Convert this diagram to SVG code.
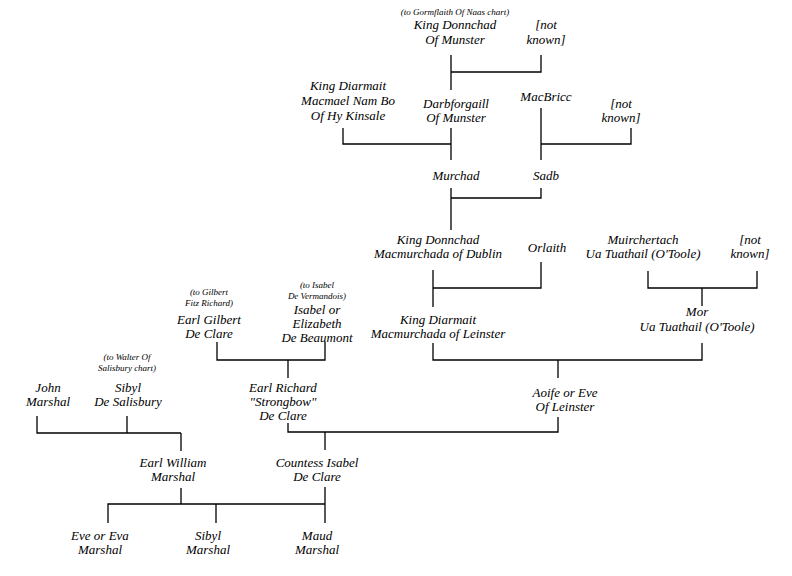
<svg xmlns="http://www.w3.org/2000/svg" width="792" height="576" viewBox="0 0 792 576" font-family="'Liberation Serif', 'Times New Roman', Times, 'DejaVu Serif', serif">
<style>
text{font-family:'Liberation Serif','Times New Roman',Times,'DejaVu Serif',serif;font-style:italic;font-size:13px;fill:#000;text-anchor:middle}
text.s{font-size:9px}
.c path{fill:none;stroke:#000;stroke-width:1.3}
</style>
<rect width="792" height="576" fill="#fff"/>
<g class="c" id="connectors">
<path d="M451,55V90M451,72H541V55"/>
<path d="M343,128V144H451M451,128V160"/>
<path d="M541,108V160M541,144H631V128"/>
<path d="M451,188V230M451,198H541V188"/>
<path d="M433,270V307M433,288H541V262"/>
<path d="M648,271V288H757V271M702,288V306"/>
<path d="M433,343V360H702V343M558,360V378"/>
<path d="M217,342V360H325V342M288,360V378"/>
<path d="M288,423V432H558V417M325,432V450"/>
<path d="M37,416V433H181M127,416V433M181,433V451"/>
<path d="M181,488V504M108,523V504H325M325,487V523M216,504V523"/>
</g>
<g id="n-donnchad-munster"><text class="s" x="455" y="15">(to Gormflaith Of Naas chart)</text><text x="455" y="29">King Donnchad</text><text x="455" y="44">Of Munster</text></g>
<g id="n-notknown1"><text x="546" y="29">[not</text><text x="546" y="44">known]</text></g>
<g id="n-diarmait-macmael"><text x="348" y="90">King Diarmait</text><text x="348" y="105">Macmael Nam Bo</text><text x="348" y="120">Of Hy Kinsale</text></g>
<g id="n-darbforgaill"><text x="456" y="108">Darbforgaill</text><text x="456" y="122">Of Munster</text></g>
<g id="n-macbricc"><text x="546" y="101">MacBricc</text></g>
<g id="n-notknown2"><text x="621" y="108">[not</text><text x="621" y="122">known]</text></g>
<g id="n-murchad"><text x="456" y="180">Murchad</text></g>
<g id="n-sadb"><text x="546" y="180">Sadb</text></g>
<g id="n-donnchad-dublin"><text x="438" y="244">King Donnchad</text><text x="438" y="258">Macmurchada of Dublin</text></g>
<g id="n-orlaith"><text x="547" y="252">Orlaith</text></g>
<g id="n-muirchertach"><text x="643" y="244">Muirchertach</text><text x="643" y="258">Ua Tuathail (O'Toole)</text></g>
<g id="n-notknown3"><text x="750" y="244">[not</text><text x="750" y="258">known]</text></g>
<g id="n-diarmait-leinster"><text x="438" y="324">King Diarmait</text><text x="438" y="338">Macmurchada of Leinster</text></g>
<g id="n-mor"><text x="697" y="316">Mor</text><text x="697" y="331">Ua Tuathail (O'Toole)</text></g>
<g id="n-gilbert"><text class="s" x="209" y="295">(to Gilbert</text><text class="s" x="209" y="306">Fitz Richard)</text><text x="209" y="324">Earl Gilbert</text><text x="209" y="338">De Clare</text></g>
<g id="n-isabel-beaumont"><text class="s" x="317" y="288">(to Isabel</text><text class="s" x="317" y="299">De Vermandois)</text><text x="317" y="314">Isabel or</text><text x="317" y="328">Elizabeth</text><text x="317" y="342">De Beaumont</text></g>
<g id="n-aoife"><text x="565" y="397">Aoife or Eve</text><text x="565" y="411">Of Leinster</text></g>
<g id="n-strongbow"><text x="283" y="392">Earl Richard</text><text x="283" y="406">"Strongbow"</text><text x="283" y="420">De Clare</text></g>
<g id="n-john"><text x="48" y="392">John</text><text x="48" y="406">Marshal</text></g>
<g id="n-sibyl-salisbury"><text class="s" x="127" y="360">(to Walter Of</text><text class="s" x="127" y="371">Salisbury chart)</text><text x="128" y="392">Sibyl</text><text x="128" y="406">De Salisbury</text></g>
<g id="n-william"><text x="173" y="467">Earl William</text><text x="173" y="481">Marshal</text></g>
<g id="n-countess-isabel"><text x="317" y="467">Countess Isabel</text><text x="317" y="481">De Clare</text></g>
<g id="n-eve"><text x="100" y="540">Eve or Eva</text><text x="100" y="554">Marshal</text></g>
<g id="n-sibyl-marshal"><text x="208" y="540">Sibyl</text><text x="208" y="554">Marshal</text></g>
<g id="n-maud"><text x="317" y="540">Maud</text><text x="317" y="554">Marshal</text></g>
</svg>
